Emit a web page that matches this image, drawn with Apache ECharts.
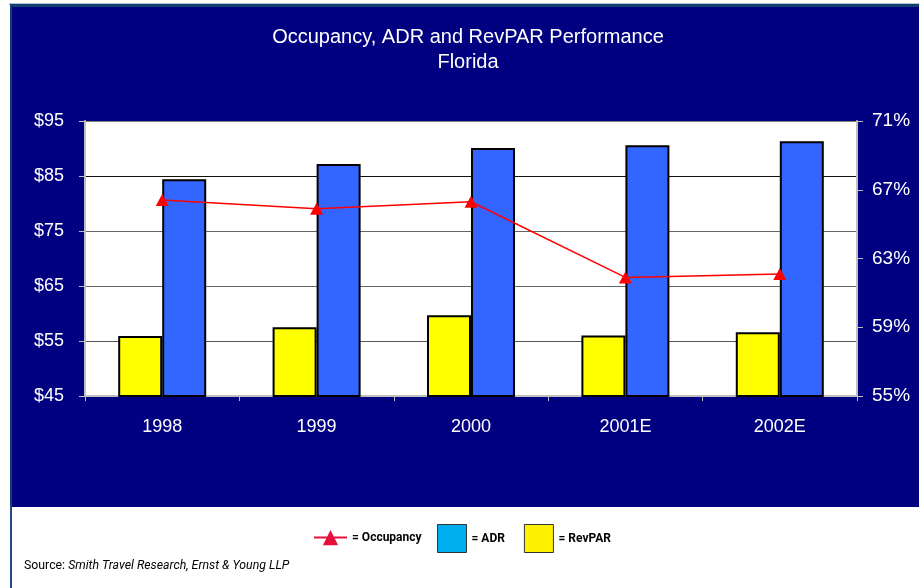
<!DOCTYPE html>
<html>
<head>
<meta charset="utf-8">
<title>Occupancy, ADR and RevPAR Performance — Florida</title>
<script src="https://cdn.jsdelivr.net/npm/echarts@6/dist/echarts.min.js"></script>
<style>
  html, body { margin: 0; padding: 0; background: #ffffff; }
  #chart { width: 919px; height: 588px; }
</style>
</head>
<body>
<div id="chart"></div>
<script>
// Hotel performance by year (2001 and 2002 are estimates)
const years = ['1998', '1999', '2000', '2001E', '2002E'];
const adr = [84.4, 87.2, 90.1, 90.6, 91.3];          // average daily rate, $
const revpar = [55.9, 57.5, 59.7, 56.0, 56.6];       // revenue per available room, $
const occupancy = [66.4, 65.9, 66.3, 61.9, 62.1];    // occupancy, %

const dollarAxis = { min: 45, max: 95, interval: 10 };
const percentAxis = { min: 55, max: 71, interval: 4 };

const NAVY = '#000080';
const AXIS_GREY = '#c0c0c0';
const narrow = "Roboto, 'Liberation Sans', Arial, sans-serif";
const sans = "'Liberation Sans', Arial, sans-serif";

const chart = echarts.init(document.getElementById('chart'), null, { renderer: 'canvas' });

chart.setOption({
  backgroundColor: '#ffffff',
  animation: false,
  title: {
    text: 'Occupancy, ADR and RevPAR Performance\nFlorida',
    left: 468,
    top: 25,
    padding: 0,
    textAlign: 'center',
    textStyle: {
      color: '#ffffff',
      fontFamily: sans,
      fontSize: 20,
      fontWeight: 'normal',
      lineHeight: 25
    }
  },
  graphic: [
    // panel frame and navy backdrop
    { type: 'rect', z: -20, shape: { x: 9, y: 3, width: 910, height: 2 }, style: { fill: '#b4c3d2' } },
    { type: 'rect', z: -19, shape: { x: 10, y: 4, width: 909, height: 503 }, style: { fill: '#123f70' } },
    { type: 'rect', z: -18, shape: { x: 12, y: 7, width: 907, height: 500 }, style: { fill: NAVY } },
    { type: 'rect', z: -18, shape: { x: 10, y: 507, width: 2, height: 81 }, style: { fill: '#1d4a86' } },
    // source note
    {
      type: 'text',
      left: 24,
      top: 560,
      style: {
        text: '{a|Source: }{b|Smith Travel Research, Ernst & Young LLP}',
        rich: {
          a: { fontFamily: narrow, fontSize: 12.3, fill: '#000000' },
          b: { fontFamily: narrow, fontSize: 12.3, fontStyle: 'italic', fill: '#000000' }
        }
      }
    }
  ],
  legend: [
    {
      data: [{
        name: 'Occupancy',
        itemStyle: { color: '#e5103c' },
        lineStyle: { color: '#e5103c', width: 2 }
      }],
      left: 313,
      top: 530,
      padding: 0,
      itemWidth: 33,
      itemHeight: 19,
      selectedMode: false,
      formatter: '= {name}',
      textStyle: { fontFamily: narrow, fontSize: 12, fontWeight: 'bold', color: '#000000' }
    },
    {
      data: [
        { name: 'ADR', icon: 'rect', itemStyle: { color: '#00aeef', borderColor: '#333333', borderWidth: 1 } },
        { name: 'RevPAR', icon: 'rect', itemStyle: { color: '#fff200', borderColor: '#333333', borderWidth: 1 } }
      ],
      left: 437,
      top: 524,
      padding: 0,
      itemWidth: 29,
      itemHeight: 28,
      itemGap: 19,
      selectedMode: false,
      formatter: '= {name}',
      textStyle: { fontFamily: narrow, fontSize: 12, fontWeight: 'bold', color: '#000000' }
    }
  ],
  grid: {
    left: 85,
    right: 62,
    top: 121,
    height: 275,
    show: true,
    backgroundColor: '#ffffff',
    borderWidth: 0
  },
  xAxis: {
    type: 'category',
    data: years,
    boundaryGap: true,
    axisLine: { show: true, lineStyle: { color: AXIS_GREY, width: 2 } },
    axisTick: { show: true, length: 5, lineStyle: { color: AXIS_GREY, width: 1 } },
    axisLabel: { color: '#ffffff', fontFamily: sans, fontSize: 18, margin: 22 },
    splitLine: { show: false }
  },
  yAxis: [
    {
      type: 'value',
      position: 'left',
      min: dollarAxis.min,
      max: dollarAxis.max,
      interval: dollarAxis.interval,
      axisLine: { show: true, lineStyle: { color: AXIS_GREY, width: 2 } },
      axisTick: { show: true, length: 6, lineStyle: { color: AXIS_GREY, width: 1 } },
      axisLabel: { color: '#ffffff', fontFamily: sans, fontSize: 18, margin: 21, formatter: '${value}' },
      splitLine: {
        show: true,
        lineStyle: { color: ['#808080', '#555555', '#666666', '#666666', '#111111', '#808080'], width: 1 }
      }
    },
    {
      type: 'value',
      position: 'right',
      min: percentAxis.min,
      max: percentAxis.max,
      interval: percentAxis.interval,
      axisLine: { show: true, lineStyle: { color: AXIS_GREY, width: 2 } },
      axisTick: { show: true, length: 6, lineStyle: { color: AXIS_GREY, width: 1 } },
      axisLabel: { color: '#ffffff', fontFamily: sans, fontSize: 19, margin: 15, formatter: '{value}%' },
      splitLine: { show: false }
    }
  ],
  series: [
    {
      name: 'RevPAR',
      type: 'bar',
      yAxisIndex: 0,
      data: revpar,
      barGap: '0%',
      barCategoryGap: '43%',
      itemStyle: { color: '#ffff00', borderColor: '#000000', borderWidth: 2 },
      z: 2
    },
    {
      name: 'ADR',
      type: 'bar',
      yAxisIndex: 0,
      data: adr,
      barGap: '0%',
      barCategoryGap: '43%',
      itemStyle: { color: '#3366ff', borderColor: '#000000', borderWidth: 2 },
      z: 2
    },
    {
      name: 'Occupancy',
      type: 'line',
      yAxisIndex: 1,
      data: occupancy,
      symbol: 'triangle',
      symbolSize: [13, 12],
      itemStyle: { color: '#ff0000' },
      lineStyle: { color: '#ff0000', width: 1.5 },
      z: 5
    }
  ]
});
</script>
</body>
</html>
